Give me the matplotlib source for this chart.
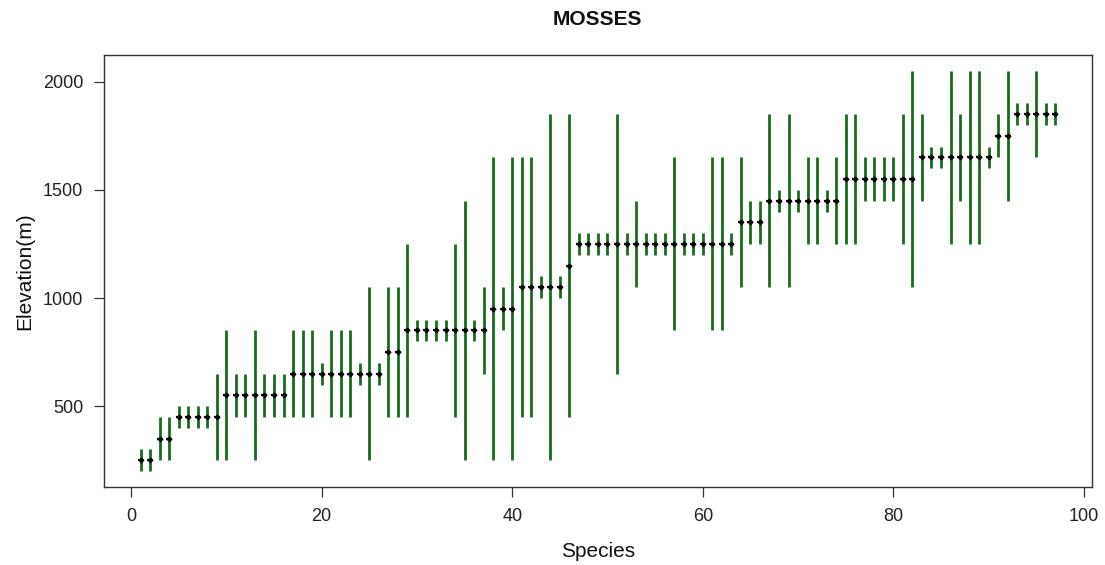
import matplotlib
matplotlib.use("Agg")
import matplotlib.pyplot as plt
import numpy as np

plt.rcParams['font.family'] = ['Liberation Sans', 'DejaVu Sans']

species = list(range(1, 98))
mid = [250, 250, 350, 350, 450, 450, 450, 450, 450, 550,
       550, 550, 550, 550, 550, 550, 650, 650, 650, 650,
       650, 650, 650, 650, 650, 650, 750, 750, 850, 850,
       850, 850, 850, 850, 850, 850, 850, 950, 950, 950,
       1050, 1050, 1050, 1050, 1050, 1150, 1250, 1250, 1250, 1250,
       1250, 1250, 1250, 1250, 1250, 1250, 1250, 1250, 1250, 1250,
       1250, 1250, 1250, 1350, 1350, 1350, 1450, 1450, 1450, 1450,
       1450, 1450, 1450, 1450, 1550, 1550, 1550, 1550, 1550, 1550,
       1550, 1550, 1650, 1650, 1650, 1650, 1650, 1650, 1650, 1650,
       1750, 1750, 1850, 1850, 1850, 1850, 1850]
low = [200, 200, 250, 250, 400, 400, 400, 400, 250, 250,
       450, 450, 250, 450, 450, 450, 450, 450, 450, 600,
       450, 450, 450, 600, 250, 600, 450, 450, 450, 800,
       800, 800, 800, 450, 250, 800, 650, 250, 850, 250,
       450, 450, 1000, 250, 1000, 450, 1200, 1200, 1200, 1200,
       650, 1200, 1050, 1200, 1200, 1200, 850, 1200, 1200, 1200,
       850, 850, 1200, 1050, 1250, 1250, 1050, 1400, 1050, 1400,
       1250, 1250, 1400, 1250, 1250, 1250, 1450, 1450, 1450, 1450,
       1250, 1050, 1450, 1600, 1600, 1250, 1450, 1250, 1250, 1600,
       1650, 1450, 1800, 1800, 1650, 1800, 1800]
high = [300, 300, 450, 450, 500, 500, 500, 500, 650, 850,
        650, 650, 850, 650, 650, 650, 850, 850, 850, 700,
        850, 850, 850, 700, 1050, 700, 1050, 1050, 1250, 900,
        900, 900, 900, 1250, 1450, 900, 1050, 1650, 1050, 1650,
        1650, 1650, 1100, 1850, 1100, 1850, 1300, 1300, 1300, 1300,
        1850, 1300, 1450, 1300, 1300, 1300, 1650, 1300, 1300, 1300,
        1650, 1650, 1300, 1650, 1450, 1450, 1850, 1500, 1850, 1500,
        1650, 1650, 1500, 1650, 1850, 1850, 1650, 1650, 1650, 1650,
        1850, 2050, 1850, 1700, 1700, 2050, 1850, 2050, 2050, 1700,
        1850, 2050, 1900, 1900, 2050, 1900, 1900]

fig = plt.figure(figsize=(11.05, 5.65), dpi=100)
ax = fig.add_axes([0.0941, 0.138, 0.8941, 0.7647])

green = '#1a6b1f'
ax.vlines(species, low, high, color=green, linewidth=2.0, zorder=2)
ax.scatter(species, mid, marker='_', s=22, color='black', linewidths=1.6, zorder=3)
ax.scatter(species, mid, marker='D', s=10, color='black', linewidths=0, zorder=4)

ax.set_xlim(-2.84, 100.84)
ax.set_ylim(126, 2124)
ax.set_xticks([0, 20, 40, 60, 80, 100])
ax.set_yticks([500, 1000, 1500, 2000])
ax.tick_params(axis='both', direction='out', length=7, width=0.9, color='#333333',
               labelsize=13, pad=8, labelcolor='#222222')
for s in ax.spines.values():
    s.set_color('#333333')
    s.set_linewidth(1.0)

ax.set_xlabel('Species', fontsize=15, labelpad=12, color='#111111')
ax.set_ylabel('Elevation(m)', fontsize=15, labelpad=6, color='#111111')
fig.text(0.541, 0.965, 'MOSSES', ha='center', va='center', fontsize=15,
         fontweight='bold', color='#111111')

fig.savefig('out.png', dpi=100)
